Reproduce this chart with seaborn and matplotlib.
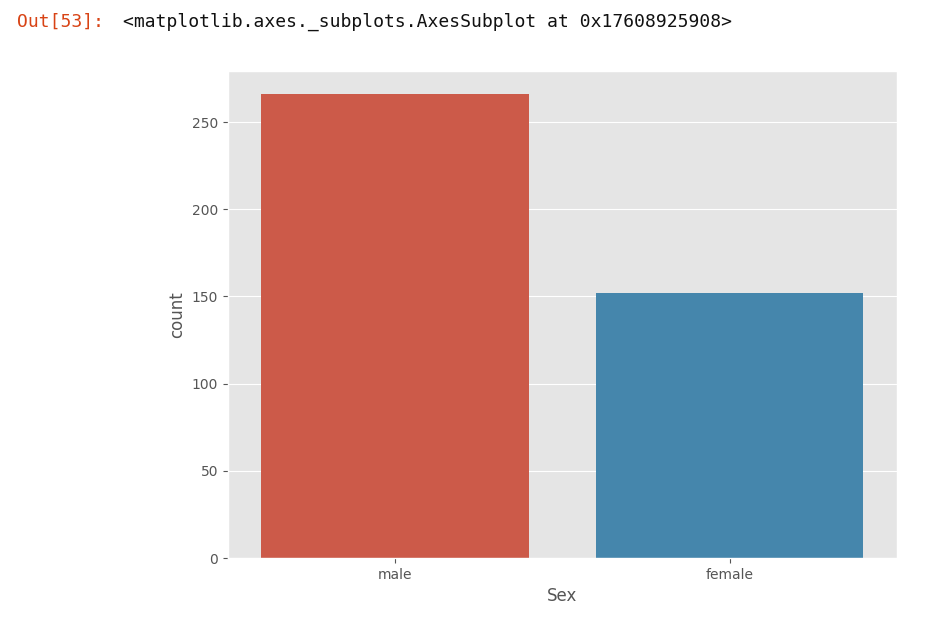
import numpy as np
import pandas as pd
import matplotlib
matplotlib.use("Agg")
import matplotlib.pyplot as plt
import seaborn as sns

# -------------------------
# Data (counts of passengers by sex)
# -------------------------
categories = ["male", "female"]
counts = [266, 152]
bar_colors = ["#E24A33", "#348ABD"]

df = pd.DataFrame({"Sex": np.repeat(categories, counts)})

# -------------------------
# Plot
# -------------------------
plt.style.use("ggplot")
fig = plt.figure(figsize=(9.48, 6.21), dpi=100)
ax = fig.add_axes([0.2405, 0.1014, 0.7055, 0.7843])

sns.countplot(data=df, x="Sex", hue="Sex", order=categories,
              palette=bar_colors, saturation=0.75, legend=False, ax=ax)
ax.set_xlabel("Sex", fontsize=12)
ax.set_ylabel("count", fontsize=12)
ax.tick_params(labelsize=10)

# notebook output prompt above the figure
fig.text(17 / 948, 0.965, "Out[53]:", color="#D84315", fontsize=13,
         family=["DejaVu Sans Mono"], va="center")
fig.text(123 / 948, 0.965, "<matplotlib.axes._subplots.AxesSubplot at 0x17608925908>",
         color="#111111", fontsize=13, family=["DejaVu Sans Mono"], va="center")

fig.savefig("out.png", dpi=100)
